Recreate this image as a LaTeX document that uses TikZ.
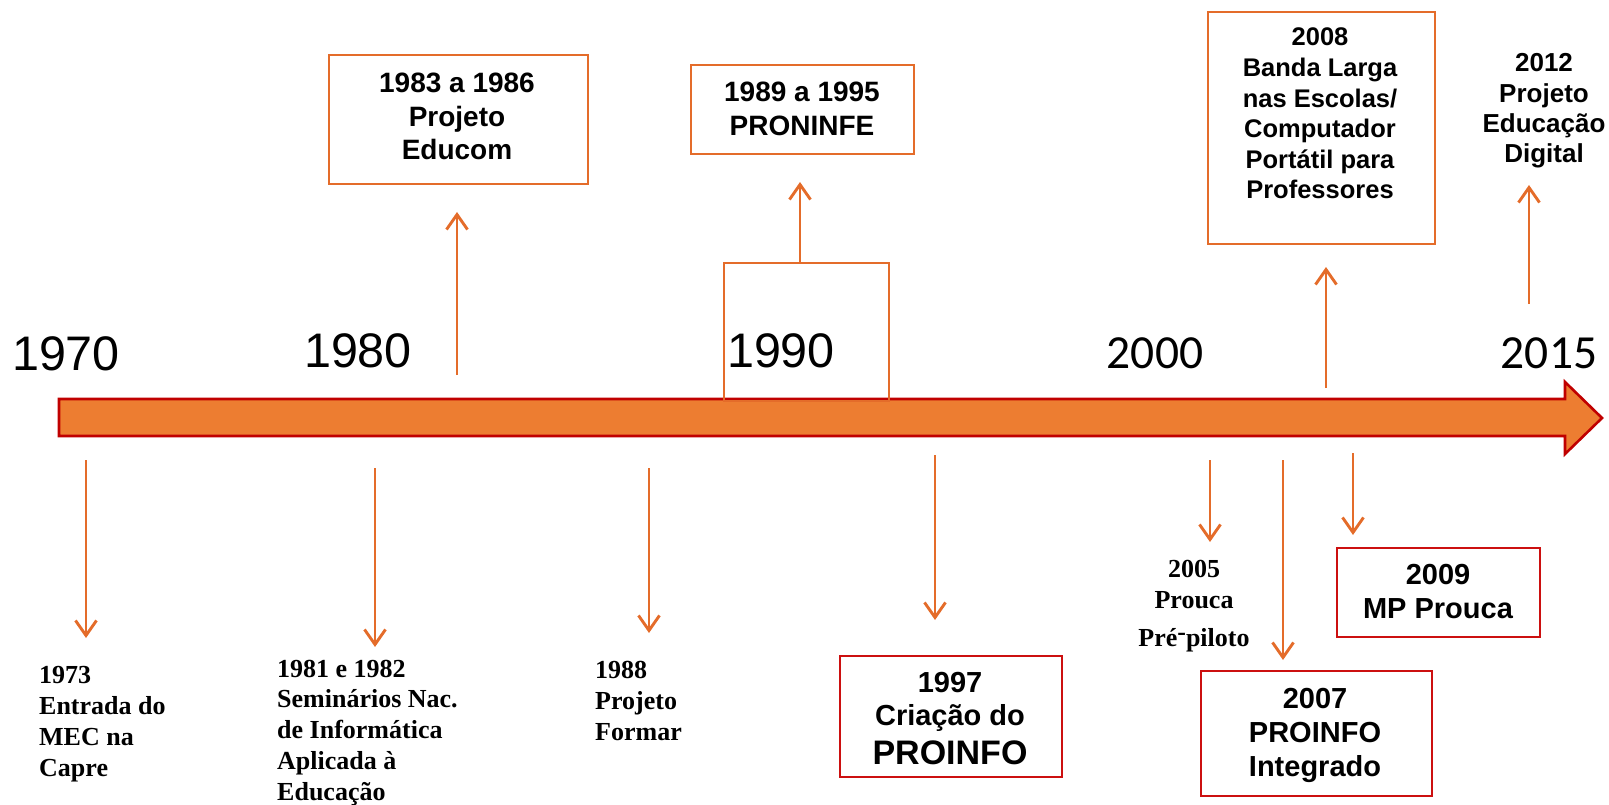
\documentclass[tikz,border=0pt]{standalone}
\usepackage{fontspec}
\setmainfont{Liberation Serif}
\newfontfamily\arial{Liberation Sans}
\newfontfamily\calib{Carlito}
\usetikzlibrary{arrows.meta}
\definecolor{lineorange}{RGB}{228,108,42}
\definecolor{barfill}{RGB}{237,125,49}
\definecolor{barred}{RGB}{192,0,0}
\definecolor{boxred}{RGB}{204,16,16}
\begin{document}
\begin{tikzpicture}[x=1pt,y=-1pt,
  conn/.style={draw=lineorange, line width=2.9pt, -{Straight Barb[length=15pt,width=21pt]}},
  obox/.style={draw=lineorange, line width=2pt, inner sep=0, anchor=north west},
  rbox/.style={draw=boxred, line width=2pt, inner sep=0, anchor=north west},
  yearA/.style={font=\arial\fontsize{48.5}{58}\selectfont, anchor=base, inner sep=0},
  yearC/.style={font=\calib\fontsize{47.5}{56}\selectfont, anchor=base, inner sep=0},
  sanslbl/.style={anchor=base, inner sep=0},
  seriflbl/.style={anchor=base west, inner sep=0, font=\bfseries\fontsize{26}{31}\selectfont},
]
\useasboundingbox (0,0) rectangle (1609,805);

% main timeline arrow
\draw[fill=barfill, draw=barred, line width=2.6pt, line join=miter]
  (59,399) -- (1565,399) -- (1565,382) -- (1602,418) -- (1565,454) -- (1565,436) -- (59,436) -- cycle;

% year labels
\node[yearA] (y1970) at (66,370) {1970};
\node[yearA] (y1980) at (358,367) {1980};
\node[yearA] (y1990) at (781,367) {1990};
\node[yearC] (y2000) at (1155,368) {2000};
\node[yearC] (y2015) at (1549,368) {2015};

% upper boxes
\node[obox, minimum width=165pt, minimum height=138pt] (b1990) at (723,262) {};
\node[obox, minimum width=259pt, minimum height=129pt] (bEducom) at (328,54) {};
\node[obox, minimum width=223pt, minimum height=89pt] (bProninfe) at (690,64) {};
\node[obox, minimum width=227pt, minimum height=232pt] (b2008) at (1207,11) {};

\node[sanslbl, font=\arial\bfseries\fontsize{28}{33.5}\selectfont] (tEducom) at (457,93)
  {\begin{tabular}[t]{@{}c@{}}1983 a 1986\\Projeto\\Educom\end{tabular}};
\node[sanslbl, font=\arial\bfseries\fontsize{28}{34}\selectfont] (tProninfe) at (802,102)
  {\begin{tabular}[t]{@{}c@{}}1989 a 1995\\PRONINFE\end{tabular}};
\node[sanslbl, font=\arial\bfseries\fontsize{25.5}{30.6}\selectfont] (t2008) at (1320,46)
  {\begin{tabular}[t]{@{}c@{}}2008\\Banda Larga\\nas Escolas/\\Computador\\Portátil para\\Professores\end{tabular}};
\node[sanslbl, font=\arial\bfseries\fontsize{26}{30.3}\selectfont] (t2012) at (1544,72)
  {\begin{tabular}[t]{@{}c@{}}2012\\Projeto\\Educação\\Digital\end{tabular}};

% upper arrows
\coordinate (aEducom) at (457,375);
\coordinate (hEducom) at (457,212);
\draw[conn] (aEducom) -- (hEducom);
\coordinate (hProninfe) at (800,182);
\draw[conn] (b1990.north -| hProninfe) -- (hProninfe);
\coordinate (a2008) at (1326,388);
\coordinate (h2008) at (1326,267);
\draw[conn] (a2008) -- (h2008);
\coordinate (a2012) at (1529,304);
\coordinate (h2012) at (1529,185);
\draw[conn] (a2012) -- (h2012);

% lower arrows
\coordinate (a1973) at (86,460);   \coordinate (h1973) at (86,638);
\coordinate (a1981) at (375,468);  \coordinate (h1981) at (375,647);
\coordinate (a1988) at (649,468);  \coordinate (h1988) at (649,633);
\coordinate (a1997) at (935,455);  \coordinate (h1997) at (935,620);
\coordinate (a2005) at (1210,460); \coordinate (h2005) at (1210,542);
\coordinate (a2007) at (1283,460); \coordinate (h2007) at (1283,660);
\coordinate (a2009) at (1353,453); \coordinate (h2009) at (1353,535);
\draw[conn] (a1973) -- (h1973);
\draw[conn] (a1981) -- (h1981);
\draw[conn] (a1988) -- (h1988);
\draw[conn] (a1997) -- (h1997);
\draw[conn] (a2005) -- (h2005);
\draw[conn] (a2007) -- (h2007);
\draw[conn] (a2009) -- (h2009);

% lower serif labels
\node[seriflbl] (t1973) at (39,683)
  {\begin{tabular}[t]{@{}l@{}}1973\\Entrada do\\MEC na\\Capre\end{tabular}};
\node[seriflbl, font=\bfseries\fontsize{26}{30.75}\selectfont] (t1981) at (277,677)
  {\begin{tabular}[t]{@{}l@{}}1981 e 1982\\Seminários Nac.\\de Informática\\Aplicada à\\Educação\end{tabular}};
\node[seriflbl] (t1988) at (595,678)
  {\begin{tabular}[t]{@{}l@{}}1988\\Projeto\\Formar\end{tabular}};
\node[sanslbl, font=\bfseries\fontsize{26}{31}\selectfont] (t2005) at (1194,577)
  {\begin{tabular}[t]{@{}c@{}}2005\\Prouca\\[7pt]Pré\raisebox{0.2em}{-}piloto\end{tabular}};

% lower red boxes
\node[rbox, minimum width=222pt, minimum height=121pt] (b1997) at (839,655) {};
\node[rbox, minimum width=231pt, minimum height=125pt] (b2007) at (1200,670) {};
\node[rbox, minimum width=203pt, minimum height=89pt] (b2009) at (1336,547) {};

\node[sanslbl, font=\arial\bfseries\fontsize{29}{33}\selectfont] (t1997) at (950,692)
  {\begin{tabular}[t]{@{}c@{}}1997\\Criação do\\[6pt]{\fontsize{34}{40}\selectfont PROINFO}\end{tabular}};
\node[sanslbl, font=\arial\bfseries\fontsize{29}{34}\selectfont] (t2007) at (1315,708)
  {\begin{tabular}[t]{@{}c@{}}2007\\PROINFO\\Integrado\end{tabular}};
\node[sanslbl, font=\arial\bfseries\fontsize{29}{34}\selectfont] (t2009) at (1438,584)
  {\begin{tabular}[t]{@{}c@{}}2009\\MP Prouca\end{tabular}};
\end{tikzpicture}
\end{document}
